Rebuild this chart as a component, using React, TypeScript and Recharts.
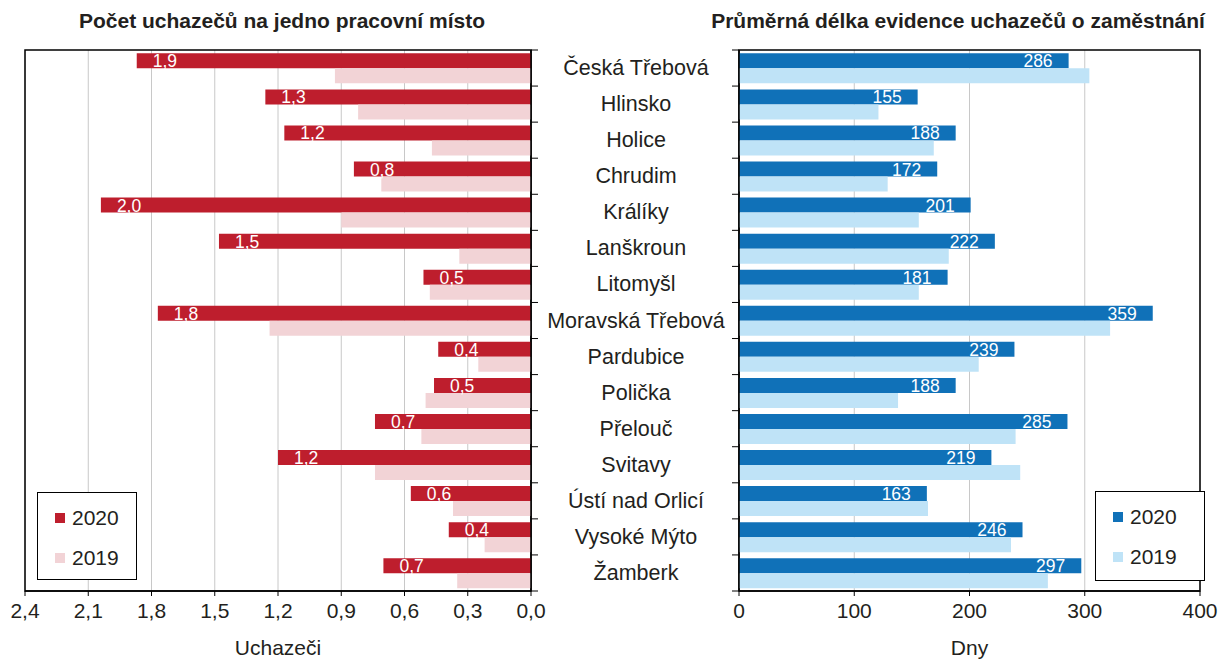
import React from "react";
import {
  BarChart,
  Bar,
  XAxis,
  YAxis,
  CartesianGrid,
  Legend,
  LabelList,
  ReferenceArea,
} from "recharts";

const categories = [
  "Česká Třebová",
  "Hlinsko",
  "Holice",
  "Chrudim",
  "Králíky",
  "Lanškroun",
  "Litomyšl",
  "Moravská Třebová",
  "Pardubice",
  "Polička",
  "Přelouč",
  "Svitavy",
  "Ústí nad Orlicí",
  "Vysoké Mýto",
  "Žamberk",
];

const seriesNames = ["2020", "2019"];

// uchazeči na jedno pracovní místo
const ratio2020 = [1.87, 1.26, 1.17, 0.84, 2.04, 1.48, 0.51, 1.77, 0.44, 0.46, 0.74, 1.2, 0.57, 0.39, 0.7];
const ratio2019 = [0.93, 0.82, 0.47, 0.71, 0.9, 0.34, 0.48, 1.24, 0.25, 0.5, 0.52, 0.74, 0.37, 0.22, 0.35];

// průměrná délka evidence (dny)
const days2020 = [286, 155, 188, 172, 201, 222, 181, 359, 239, 188, 285, 219, 163, 246, 297];
const days2019 = [304, 121, 169, 129, 156, 182, 156, 322, 208, 138, 240, 244, 164, 236, 268];

const ratioTicks = [0, 0.3, 0.6, 0.9, 1.2, 1.5, 1.8, 2.1, 2.4];
const dayTicks = [0, 100, 200, 300, 400];

const ratioData = categories.map((name, i) => ({ name, y2020: ratio2020[i], y2019: ratio2019[i] }));
const daysData = categories.map((name, i) => ({ name, y2020: days2020[i], y2019: days2019[i] }));

const FONT = '"Liberation Sans", Arial, sans-serif';
const TEXT = "#231f20";
const RED = "#be1e2d";
const PINK = "#f2d3d6";
const BLUE = "#1071b8";
const LIGHT_BLUE = "#bfe3f7";

const fmtComma = (v: number) => v.toFixed(1).replace(".", ",");

function box(props: any) {
  const vb = props.viewBox && props.viewBox.width !== undefined ? props.viewBox : props;
  const x = Number(vb.x);
  const w = Number(vb.width);
  return { left: Math.min(x, x + w), right: Math.max(x, x + w), y: Number(vb.y), h: Number(vb.height) };
}

const RatioLabel = (props: any) => {
  const b = box(props);
  return (
    <text x={b.left + 16} y={b.y + b.h - 1} fill="#fff" fontSize={17.5} fontFamily={FONT}>
      {fmtComma(Number(props.value))}
    </text>
  );
};

const DaysLabel = (props: any) => {
  const b = box(props);
  return (
    <text x={b.right - 16} y={b.y + b.h - 1} fill="#fff" fontSize={17.5} fontFamily={FONT} textAnchor="end">
      {props.value}
    </text>
  );
};

// tick marks between categories (and optionally the category name)
const bandTick = (side: "left" | "right", withLabel: boolean) => (props: any) => {
  const { x, y, payload, index } = props;
  const half = payload && payload.offset ? payload.offset : 18;
  const dir = side === "left" ? -1 : 1;
  const last = index === categories.length - 1;
  return (
    <g>
      <line x1={x} x2={x + dir * 7} y1={y - half} y2={y - half} stroke="#000" />
      {last && <line x1={x} x2={x + dir * 7} y1={y + half} y2={y + half} stroke="#000" />}
      {withLabel && (
        <text
          x={x - 103}
          y={y}
          fill={TEXT}
          fontSize={21.5}
          fontFamily={FONT}
          textAnchor="middle"
          dominantBaseline="central"
        >
          {payload.value}
        </text>
      )}
    </g>
  );
};

const renderLegend = (width: number, height: number) => (props: any) => {
  const items = [...(props.payload || [])].sort(
    (a: any, b: any) => seriesNames.indexOf(String(a.value)) - seriesNames.indexOf(String(b.value))
  );
  return (
    <div
      style={{
        width,
        height,
        boxSizing: "border-box",
        border: "1.5px solid #000",
        background: "#fff",
        paddingTop: 5,
        paddingLeft: 17,
        fontFamily: FONT,
        fontSize: 21,
        color: TEXT,
      }}
    >
      {items.map((item: any) => (
        <div key={item.value} style={{ display: "flex", alignItems: "center", height: 40 }}>
          <span style={{ display: "inline-block", width: 10, height: 10, background: item.color, marginRight: 7 }} />
          <span>{item.value}</span>
        </div>
      ))}
    </div>
  );
};

const titleStyle: React.CSSProperties = {
  position: "absolute",
  top: 9,
  fontFamily: FONT,
  fontWeight: "bold",
  fontSize: 21,
  color: TEXT,
  whiteSpace: "nowrap",
  transform: "translateX(-50%)",
};

const tickStyle = { fontSize: 21, fill: TEXT, fontFamily: FONT };
const axisLabel = { position: "insideBottom" as const, offset: 4, fontSize: 21, fill: TEXT, fontFamily: FONT };

export default function App() {
  return (
    <div style={{ position: "absolute", left: 0, top: 0, width: 1224, height: 659, background: "#fff" }}>
      <div style={{ ...titleStyle, left: 282 }}>Počet uchazečů na jedno pracovní místo</div>
      <div style={{ ...titleStyle, left: 958 }}>Průměrná délka evidence uchazečů o zaměstnání</div>

      <div style={{ position: "absolute", left: 0, top: 0 }}>
        <BarChart
          width={560}
          height={659}
          data={ratioData}
          layout="vertical"
          margin={{ top: 50, right: 0, bottom: 0, left: 25 }}
          barCategoryGap="9.2%"
          barGap={0}
        >
          <CartesianGrid horizontal={false} stroke="#c8c8c8" />
          <XAxis
            type="number"
            domain={[0, 2.4]}
            ticks={ratioTicks}
            interval={0}
            reversed
            tickFormatter={fmtComma}
            tick={tickStyle}
            tickSize={5}
            tickMargin={7}
            height={68}
            axisLine={{ stroke: "#000", strokeWidth: 1.5 }}
            tickLine={{ stroke: "#000" }}
            label={{ value: "Uchazeči", ...axisLabel }}
          />
          <YAxis
            type="category"
            dataKey="name"
            orientation="right"
            width={29}
            interval={0}
            tickSize={0}
            tickMargin={0}
            tickLine={false}
            tick={bandTick("right", false)}
            axisLine={{ stroke: "#000", strokeWidth: 1.5 }}
          />
          <ReferenceArea
            x1={0}
            x2={2.4}
            y1={categories[0]}
            y2={categories[categories.length - 1]}
            fill="none"
            stroke="#000"
            strokeWidth={1.5}
            ifOverflow="visible"
          />
          <Bar dataKey="y2020" name={seriesNames[0]} fill={RED} isAnimationActive={false}>
            <LabelList dataKey="y2020" content={RatioLabel} />
          </Bar>
          <Bar dataKey="y2019" name={seriesNames[1]} fill={PINK} isAnimationActive={false} />
          <Legend
            layout="vertical"
            align="center"
            verticalAlign="middle"
            content={renderLegend(100, 88)}
            wrapperStyle={{ left: 37, top: 492, width: 100, height: 88 }}
          />
        </BarChart>
      </div>

      <div style={{ position: "absolute", left: 540, top: 0 }}>
        <BarChart
          width={684}
          height={659}
          data={daysData}
          layout="vertical"
          margin={{ top: 50, right: 24, bottom: 0, left: 0 }}
          barCategoryGap="9.2%"
          barGap={0}
        >
          <CartesianGrid horizontal={false} stroke="#c8c8c8" />
          <XAxis
            type="number"
            domain={[0, 400]}
            ticks={dayTicks}
            interval={0}
            tick={tickStyle}
            tickSize={5}
            tickMargin={7}
            height={68}
            axisLine={{ stroke: "#000", strokeWidth: 1.5 }}
            tickLine={{ stroke: "#000" }}
            label={{ value: "Dny", ...axisLabel }}
          />
          <YAxis
            type="category"
            dataKey="name"
            orientation="left"
            width={199}
            interval={0}
            tickSize={0}
            tickMargin={0}
            tickLine={false}
            tick={bandTick("left", true)}
            axisLine={{ stroke: "#000", strokeWidth: 1.5 }}
          />
          <ReferenceArea
            x1={0}
            x2={400}
            y1={categories[0]}
            y2={categories[categories.length - 1]}
            fill="none"
            stroke="#000"
            strokeWidth={1.5}
            ifOverflow="visible"
          />
          <Bar dataKey="y2020" name={seriesNames[0]} fill={BLUE} isAnimationActive={false}>
            <LabelList dataKey="y2020" content={DaysLabel} />
          </Bar>
          <Bar dataKey="y2019" name={seriesNames[1]} fill={LIGHT_BLUE} isAnimationActive={false} />
          <Legend
            layout="vertical"
            align="center"
            verticalAlign="middle"
            content={renderLegend(110, 90)}
            wrapperStyle={{ left: 555, top: 491, width: 110, height: 90 }}
          />
        </BarChart>
      </div>
    </div>
  );
}
